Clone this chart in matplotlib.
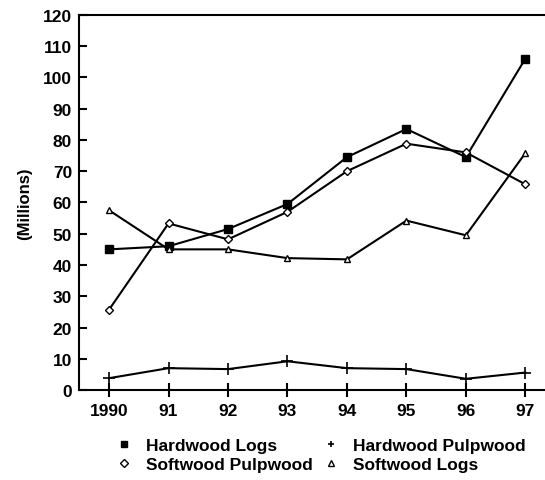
import matplotlib
matplotlib.use("Agg")
from matplotlib import pyplot as plt

years = ['1990', '91', '92', '93', '94', '95', '96', '97']
hardwood_logs = [45, 46, 51.5, 59.5, 74.5, 83.5, 74.5, 106]
softwood_pulpwood = [25.7, 53.3, 48.2, 57, 70, 78.8, 76, 65.8]
softwood_logs = [57.5, 45, 45, 42.2, 41.8, 54.2, 49.5, 75.8]
hardwood_pulpwood = [3.8, 7, 6.7, 9.2, 7, 6.7, 3.6, 5.6]

plt.rcParams['font.family'] = ['Liberation Sans', 'DejaVu Sans']
plt.rcParams['font.weight'] = 'bold'

fig = plt.figure(figsize=(5.45, 4.81), dpi=100)
ax = fig.add_axes([0.145, 0.187, 0.855, 0.780])

x = list(range(len(years)))
l1, = ax.plot(x, hardwood_logs, color='black', lw=1.5, marker='s', ms=6,
              mfc='black', mec='black')
l2, = ax.plot(x, softwood_pulpwood, color='black', lw=1.5, marker='D', ms=4,
              mfc='white', mec='black', mew=1)
l3, = ax.plot(x, hardwood_pulpwood, color='black', lw=1.5, marker='+', ms=8,
              mec='black', mew=1.2)
l4, = ax.plot(x, softwood_logs, color='black', lw=1.5, marker='^', ms=5,
              mfc='white', mec='black', mew=1)

ax.set_xlim(-0.505, 7.33)
ax.set_ylim(0, 120)
ax.set_yticks(range(0, 121, 10))
ax.set_xticks(x)
ax.set_xticklabels(years)
ax.tick_params(axis='y', labelsize=12.5, width=1.5, length=6, direction='in', pad=5)
ax.tick_params(axis='x', labelsize=12.5, width=1.5, length=10, direction='inout', pad=4)
for lab in ax.get_xticklabels() + ax.get_yticklabels():
    lab.set_fontweight('bold')
for s in ax.spines.values():
    s.set_linewidth(1.5)
ax.spines['right'].set_visible(False)
ax.set_ylabel('(Millions)', fontsize=12, fontweight='bold', labelpad=8)

leg = fig.legend([l1, l2, l3, l4],
                 ['Hardwood Logs', 'Softwood Pulpwood', 'Hardwood Pulpwood', 'Softwood Logs'],
                 ncol=2, loc='center', bbox_to_anchor=(0.588, 0.052), frameon=False,
                 fontsize=12.5, handlelength=1.0, columnspacing=0.5, labelspacing=0.22,
                 handletextpad=0.8)
for h in leg.legend_handles:
    h.set_linestyle('none')
    h.set_markersize(4)

fig.savefig('out.png', dpi=100)
